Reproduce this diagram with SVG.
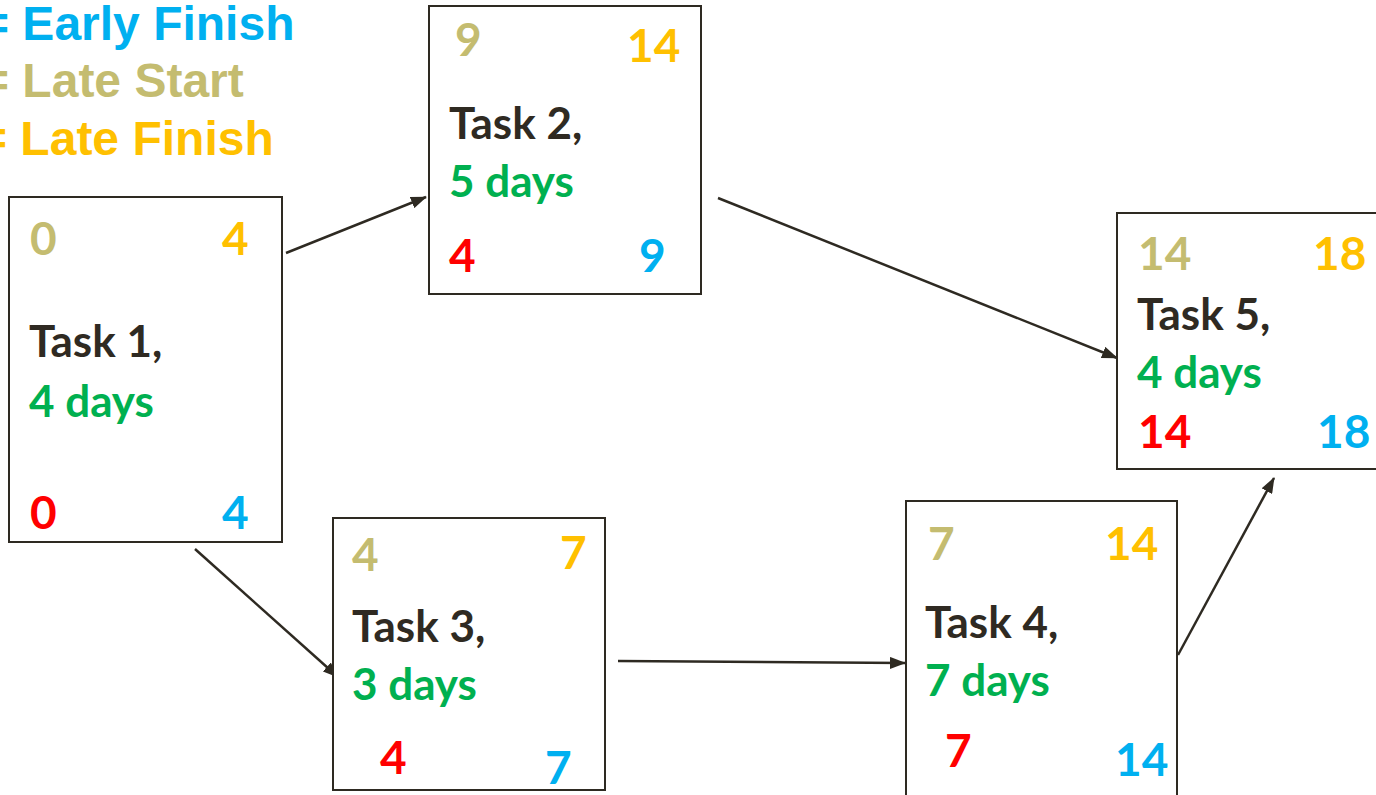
<svg xmlns="http://www.w3.org/2000/svg" width="1376" height="795" viewBox="0 0 1376 795">
<style>
.box{fill:#fff;stroke:#2e2a22;stroke-width:2}
.n{font-family:Lato,"Open Sans",sans-serif;font-weight:bold;font-size:46px}
.t{font-family:Lato,"Open Sans",sans-serif;font-weight:bold;font-size:44px;fill:#2f2a22}
.d{font-family:Lato,"Open Sans",sans-serif;font-weight:bold;font-size:44px;fill:#00b050}
.lg{font-family:"Liberation Sans",Arial,sans-serif;font-weight:bold;font-size:48px}
.ls{fill:#c4bc70}.lf{fill:#ffc000}.es{fill:#ff0000}.ef{fill:#00b0f0}
.c{stroke:#2e2a22;stroke-width:2.5;fill:none;marker-end:url(#ah)}
</style>
<defs>
<marker id="ah" viewBox="0 0 16 12" refX="15" refY="6" markerWidth="16" markerHeight="12" markerUnits="userSpaceOnUse" orient="auto">
<path d="M0,0 L16,6 L0,12 z" fill="#2e2a22"/>
</marker>
</defs>
<rect width="1376" height="795" fill="#fff"/>
<g id="legend">
<text class="lg ef" x="-19" y="40">= Early Finish</text>
<text class="lg ls" x="-19" y="97">= Late Start</text>
<text class="lg lf" x="-21" y="155">= Late Finish</text>
</g>
<g id="connectors">
<line class="c" x1="286" y1="253" x2="426" y2="197"/>
<line class="c" x1="718" y1="198" x2="1117" y2="358"/>
<line class="c" x1="195" y1="549" x2="338" y2="677"/>
<line class="c" x1="618" y1="661" x2="905" y2="663"/>
<line class="c" x1="1178" y1="655" x2="1274" y2="478"/>
</g>
<g id="task1">
<rect class="box" x="9" y="197" width="273" height="345"/>
<text class="n ls" x="30" y="255">0</text>
<text class="n lf" x="222" y="255">4</text>
<text class="t" x="29" y="357">Task 1,</text>
<text class="d" x="29" y="417">4 days</text>
<text class="n es" x="30" y="529">0</text>
<text class="n ef" x="222" y="529">4</text>
</g>
<g id="task2">
<rect class="box" x="429" y="6" width="272" height="288"/>
<text class="n ls" x="455" y="56">9</text>
<text class="n lf" x="627" y="62">14</text>
<text class="t" x="449" y="139">Task 2,</text>
<text class="d" x="449" y="197">5 days</text>
<text class="n es" x="449" y="272">4</text>
<text class="n ef" x="639" y="272">9</text>
</g>
<g id="task3">
<rect class="box" x="333" y="518" width="272" height="272"/>
<text class="n ls" x="352" y="571">4</text>
<text class="n lf" x="560" y="569">7</text>
<text class="t" x="352" y="642">Task 3,</text>
<text class="d" x="352" y="700">3 days</text>
<text class="n es" x="380" y="774">4</text>
<text class="n ef" x="545" y="784">7</text>
</g>
<g id="task4">
<rect class="box" x="906" y="501" width="271" height="310"/>
<text class="n ls" x="928" y="560">7</text>
<text class="n lf" x="1105" y="560">14</text>
<text class="t" x="925" y="638">Task 4,</text>
<text class="d" x="925" y="696">7 days</text>
<text class="n es" x="945" y="767">7</text>
<text class="n ef" x="1115" y="776">14</text>
</g>
<g id="task5">
<rect class="box" x="1117" y="213" width="280" height="256"/>
<text class="n ls" x="1138" y="270">14</text>
<text class="n lf" x="1313" y="270">18</text>
<text class="t" x="1137" y="330">Task 5,</text>
<text class="d" x="1137" y="388">4 days</text>
<text class="n es" x="1138" y="448">14</text>
<text class="n ef" x="1317" y="448">18</text>
</g>
</svg>
